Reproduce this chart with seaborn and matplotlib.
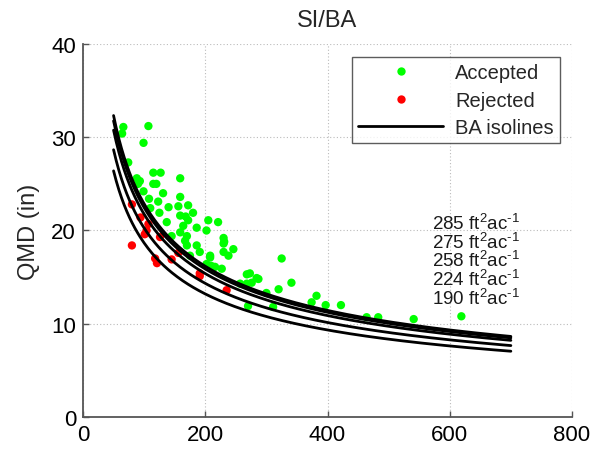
import numpy as np
import pandas as pd
import matplotlib
matplotlib.use("Agg")
import matplotlib.pyplot as plt
from matplotlib.lines import Line2D
import seaborn as sns

# ---- data ----
acc_tpa = [66, 64, 107, 99, 74, 88, 93, 115, 127, 159, 90, 115, 120, 99, 131, 159,
           108, 123, 140, 156, 172, 110, 125, 159, 168, 180, 172, 137, 164, 186,
           205, 221, 202, 159, 170, 145, 167, 170, 186, 230, 231, 230, 191, 246,
           230, 208, 238, 175, 208, 202, 210, 216, 227, 268, 273, 284, 287, 276,
           257, 268, 325, 341, 320, 300, 270, 311, 382, 374, 397, 422, 464, 483,
           541, 619]
acc_qmd = [31.1, 30.4, 31.2, 29.4, 27.3, 25.6, 25.3, 26.2, 26.2, 25.6, 25.0, 25.0,
           25.0, 24.2, 24.0, 23.6, 23.4, 23.1, 22.5, 22.6, 22.7, 22.4, 21.9, 21.6,
           21.5, 21.9, 21.1, 20.9, 20.5, 20.3, 21.1, 20.9, 20.0, 19.8, 19.4, 19.4,
           18.9, 18.4, 18.4, 19.2, 18.8, 18.6, 17.7, 18.0, 17.7, 17.3, 17.3, 17.3,
           17.1, 16.4, 16.2, 16.1, 15.9, 15.3, 15.4, 14.9, 14.8, 14.4, 14.3, 14.3,
           17.0, 14.4, 13.7, 13.3, 11.9, 11.8, 13.0, 12.3, 12.0, 12.0, 10.7, 10.7,
           10.5, 10.8]
rej_tpa = [80, 94, 107, 104, 101, 126, 80, 118, 121, 145, 156, 191, 191, 235]
rej_qmd = [22.8, 21.4, 20.7, 20.0, 19.6, 19.3, 18.4, 17.0, 16.5, 16.9, 17.6, 15.4,
           15.1, 13.6]

ba_levels = [285, 275, 258, 224, 190]          # ft^2/ac, one isoline each
tpa_range = [50, 700]
BA_FACTOR = 0.005454  # ft^2 of basal area per in^2 of diameter

xticks = [0, 200, 400, 600, 800]
yticks = [0, 10, 20, 30, 40]

# ---- build tables ----
pts = pd.DataFrame({
    "TPA": acc_tpa + rej_tpa,
    "QMD": acc_qmd + rej_qmd,
    "Status": ["Accepted"] * len(acc_tpa) + ["Rejected"] * len(rej_tpa),
})
tpa_grid = np.linspace(tpa_range[0], tpa_range[1], 300)
iso = pd.concat([
    pd.DataFrame({"TPA": tpa_grid,
                  "QMD": np.sqrt(ba / (BA_FACTOR * tpa_grid)),
                  "BA": ba})
    for ba in ba_levels
])

sns.set_theme(style="white")
plt.rcParams["font.family"] = ["Liberation Sans", "DejaVu Sans"]
plt.rcParams["mathtext.fontset"] = "custom"
plt.rcParams["mathtext.rm"] = "Liberation Sans"
plt.rcParams["mathtext.it"] = "Liberation Sans:italic"

fig = plt.figure(figsize=(5.95, 4.56), dpi=100)
ax = fig.add_axes([83 / 595, 1 - 418 / 456, (572 - 83) / 595, (418 - 45) / 456])

sns.scatterplot(data=pts, x="TPA", y="QMD", hue="Status",
                palette={"Accepted": "#00ff00", "Rejected": "#ff0000"},
                s=36, linewidth=0, ax=ax, legend=False, zorder=2)
sns.lineplot(data=iso, x="TPA", y="QMD", units="BA", estimator=None,
             color="black", lw=2.0, ax=ax, legend=False, zorder=3)

label_text = "\n".join(f"{ba} ft$^{{2}}$ac$^{{\\text{{-}}1}}$" for ba in ba_levels)
ax.text(571, 16.8, label_text, fontsize=13.5, va="center", ha="left",
        color="#1a1a1a", linespacing=0.92)

ax.set_xlim(0, 800)
ax.set_ylim(0, 40)
ax.set_xticks(xticks)
ax.set_yticks(yticks)
ax.set_xlabel("")
ax.set_ylabel("QMD (in)", fontsize=17, labelpad=8)
ax.set_title("SI/BA", fontsize=17, pad=13)
ax.tick_params(axis="both", direction="in", length=4, width=1, colors="#555555",
               labelcolor="black", labelsize=16, left=True, bottom=True)
ax.tick_params(axis="x", pad=5)
ax.tick_params(axis="y", pad=5)
ax.grid(True, linestyle=(0, (1, 2)), color="#bbbbbb", lw=0.8)
for side in ["top", "right"]:
    ax.spines[side].set_visible(False)
for side in ["left", "bottom"]:
    ax.spines[side].set_color("#555555")
    ax.spines[side].set_linewidth(1.3)

handles = [
    Line2D([], [], marker="o", color="none", markerfacecolor="#00ff00",
           markeredgecolor="none", markersize=6),
    Line2D([], [], marker="o", color="none", markerfacecolor="#ff0000",
           markeredgecolor="none", markersize=6),
    Line2D([], [], color="black", lw=2),
]
leg = ax.legend(handles, ["Accepted", "Rejected", "BA isolines"],
                loc="upper right", bbox_to_anchor=(0.975, 0.965), borderaxespad=0,
                fontsize=14.5, frameon=True, fancybox=False, handlelength=4.2,
                borderpad=0.3, labelspacing=0.42, handletextpad=0.6)
leg.get_frame().set_edgecolor("#333333")
leg.get_frame().set_linewidth(1.0)

fig.savefig("out.png", dpi=100)
